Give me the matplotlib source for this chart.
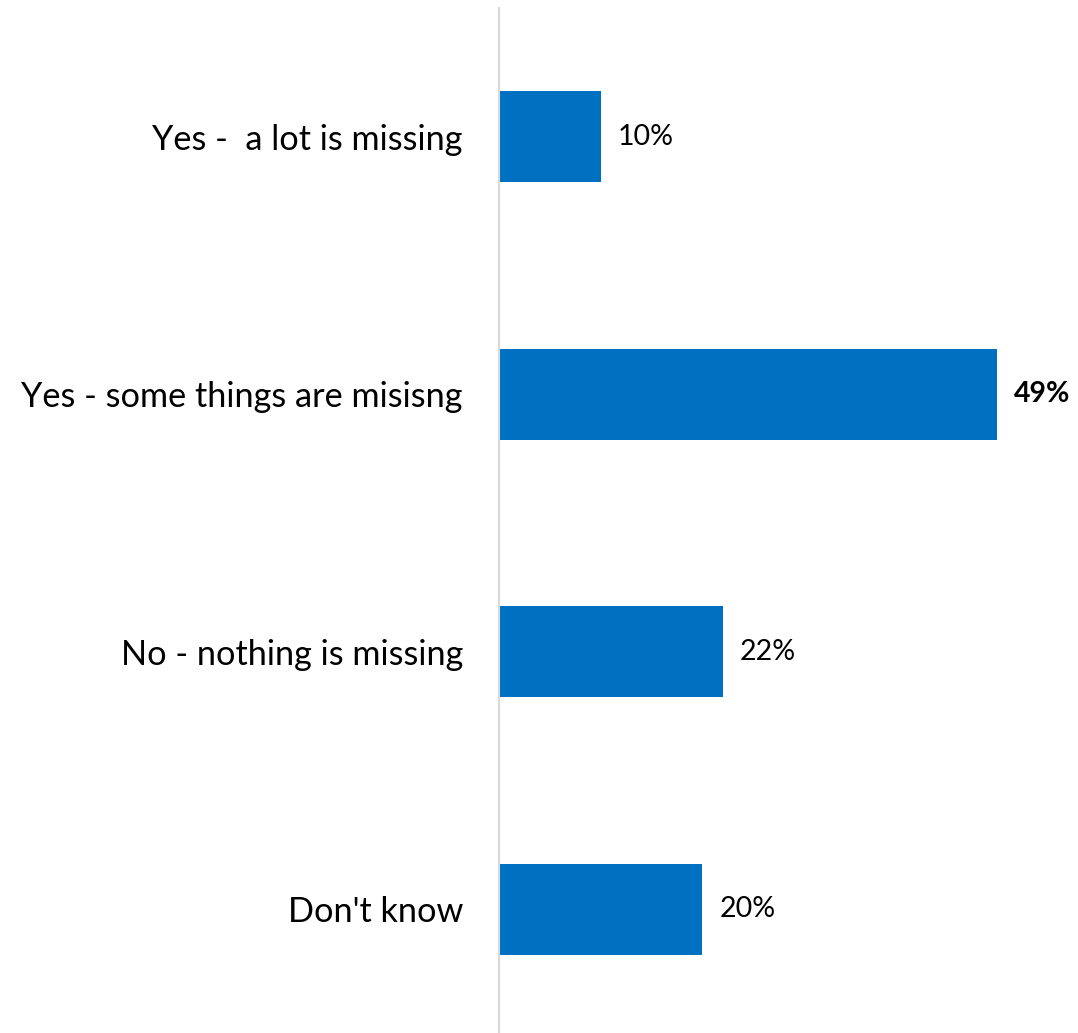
import matplotlib.pyplot as plt

# survey answers, top to bottom
categories = ["Yes -  a lot is missing", "Yes - some things are misisng",
              "No - nothing is missing", "Don't know"]
values = [10, 49, 22, 20]
bold_labels = [False, True, False, False]

plt.rcParams['font.family'] = ['Lato', 'DejaVu Sans']

fig = plt.figure(figsize=(10.78, 10.33), dpi=100)
# axes placed so the zero line sits at x=499px
ax = fig.add_axes([499/1078, -5/1033, 579/1078, 1030/1033])

pos = list(range(len(categories)))
ax.barh(pos, values, height=0.354, color='#0070C0')
ax.set_ylim(len(categories) - 0.5, -0.5)
ax.set_xlim(0, 579/10.163)

for p, v, b in zip(pos, values, bold_labels):
    ax.text(v + 1.7, p, str(v) + "%", va='center', ha='left', fontsize=20.5,
            fontweight='bold' if b else 'normal', color='black')

ax.set_yticks(pos)
ax.set_yticklabels(categories, fontsize=24.7)
ax.tick_params(axis='y', length=0, pad=26)
ax.set_xticks([])
for s in ['top', 'right', 'bottom']:
    ax.spines[s].set_visible(False)
ax.spines['left'].set_color('#d9d9d9')
ax.spines['left'].set_linewidth(1.5)

fig.savefig('out.png', dpi=100)
